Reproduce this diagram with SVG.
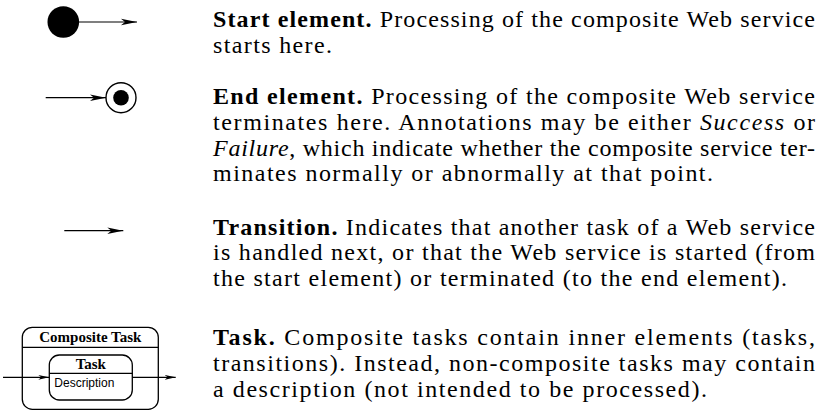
<svg xmlns="http://www.w3.org/2000/svg" width="823" height="412" viewBox="0 0 823 412">
  <style>
    .desc { font-family: "Liberation Serif", "Times New Roman", serif; font-size: 24px; fill: #000; }
    .b { font-weight: bold; }
    .i { font-style: italic; }
    .edge { stroke: #000; stroke-width: 1.2; fill: none; }
    .box { stroke: #000; stroke-width: 1.3; fill: #fff; }
    .sep { stroke: #000; stroke-width: 1.3; }
    .title { font-family: "Liberation Serif", "Times New Roman", serif; font-size: 15px; font-weight: bold; text-anchor: middle; fill: #000; }
    .note { font-family: "Liberation Sans", Arial, sans-serif; font-size: 12px; fill: #000; }
  </style>
  <defs>
    <marker id="arrow" markerUnits="userSpaceOnUse" markerWidth="16" markerHeight="8" refX="16" refY="4" orient="auto">
      <path d="M0,0.8 L16,4 L0,7.2 L4,4 Z" fill="#000"/>
    </marker>
    <marker id="arrow-sm" markerUnits="userSpaceOnUse" markerWidth="11" markerHeight="6" refX="11" refY="3" orient="auto">
      <path d="M0,0.6 L11,3 L0,5.4 L3,3 Z" fill="#000"/>
    </marker>
  </defs>

  <!-- legend symbols -->
  <g id="start-element">
    <circle cx="63.3" cy="22" r="15.8" fill="#000"/>
  </g>
  <g id="end-element">
    <circle cx="121" cy="97.7" r="15" fill="#fff" stroke="#000" stroke-width="1.4"/>
    <circle cx="121" cy="97.7" r="7.8" fill="#000"/>
  </g>
  <g id="composite-task">
    <rect class="box" x="22.3" y="327.3" width="136" height="82" rx="10" ry="10"/>
    <line class="sep" x1="22.3" y1="347.3" x2="158.3" y2="347.3"/>
    <text class="title" x="90.3" y="342.3">Composite Task</text>
  </g>
  <g id="task">
    <rect class="box" x="49.3" y="355" width="83" height="45" rx="10" ry="10"/>
    <line class="sep" x1="49.3" y1="373.3" x2="132.3" y2="373.3"/>
    <text class="title" x="90.8" y="369">Task</text>
    <text class="note" x="54.3" y="386.5">Description</text>
  </g>

  <g id="connectors">
    <line class="edge" x1="79" y1="22" x2="137" y2="22" marker-end="url(#arrow)"/>
    <line class="edge" x1="45.7" y1="97.7" x2="106" y2="97.7" marker-end="url(#arrow)"/>
    <line class="edge" x1="64.3" y1="230.7" x2="123.3" y2="230.7" marker-end="url(#arrow)"/>
    <line class="edge" x1="3" y1="377.3" x2="49.3" y2="377.3" marker-end="url(#arrow-sm)"/>
    <line class="edge" x1="132.3" y1="377.3" x2="175.7" y2="377.3" marker-end="url(#arrow-sm)"/>
  </g>

  <!-- explanations, justified between x=213 and x=815 -->
  <g id="text-start" class="desc">
    <text x="213" y="27" textLength="602" lengthAdjust="spacing"><tspan class="b">Start element.</tspan> Processing of the composite Web service</text>
    <text x="213" y="53" textLength="119" lengthAdjust="spacing">starts here.</text>
  </g>
  <g id="text-end" class="desc">
    <text x="213" y="104" textLength="602" lengthAdjust="spacing"><tspan class="b">End element.</tspan> Processing of the composite Web service</text>
    <text x="213" y="130" textLength="602" lengthAdjust="spacing">terminates here. Annotations may be either <tspan class="i">Success</tspan> or</text>
    <text x="213" y="155.5" textLength="602" lengthAdjust="spacing"><tspan class="i">Failure</tspan>, which indicate whether the composite service ter-</text>
    <text x="213" y="181" textLength="500" lengthAdjust="spacing">minates normally or abnormally at that point.</text>
  </g>
  <g id="text-transition" class="desc">
    <text x="213" y="234.5" textLength="602" lengthAdjust="spacing"><tspan class="b">Transition.</tspan> Indicates that another task of a Web service</text>
    <text x="213" y="260" textLength="602" lengthAdjust="spacing">is handled next, or that the Web service is started (from</text>
    <text x="213" y="285.5" textLength="574" lengthAdjust="spacing">the start element) or terminated (to the end element).</text>
  </g>
  <g id="text-task" class="desc">
    <text x="213" y="345" textLength="602" lengthAdjust="spacing"><tspan class="b">Task.</tspan> Composite tasks contain inner elements (tasks,</text>
    <text x="213" y="371" textLength="602" lengthAdjust="spacing">transitions). Instead, non-composite tasks may contain</text>
    <text x="213" y="396.5" textLength="494" lengthAdjust="spacing">a description (not intended to be processed).</text>
  </g>
</svg>
